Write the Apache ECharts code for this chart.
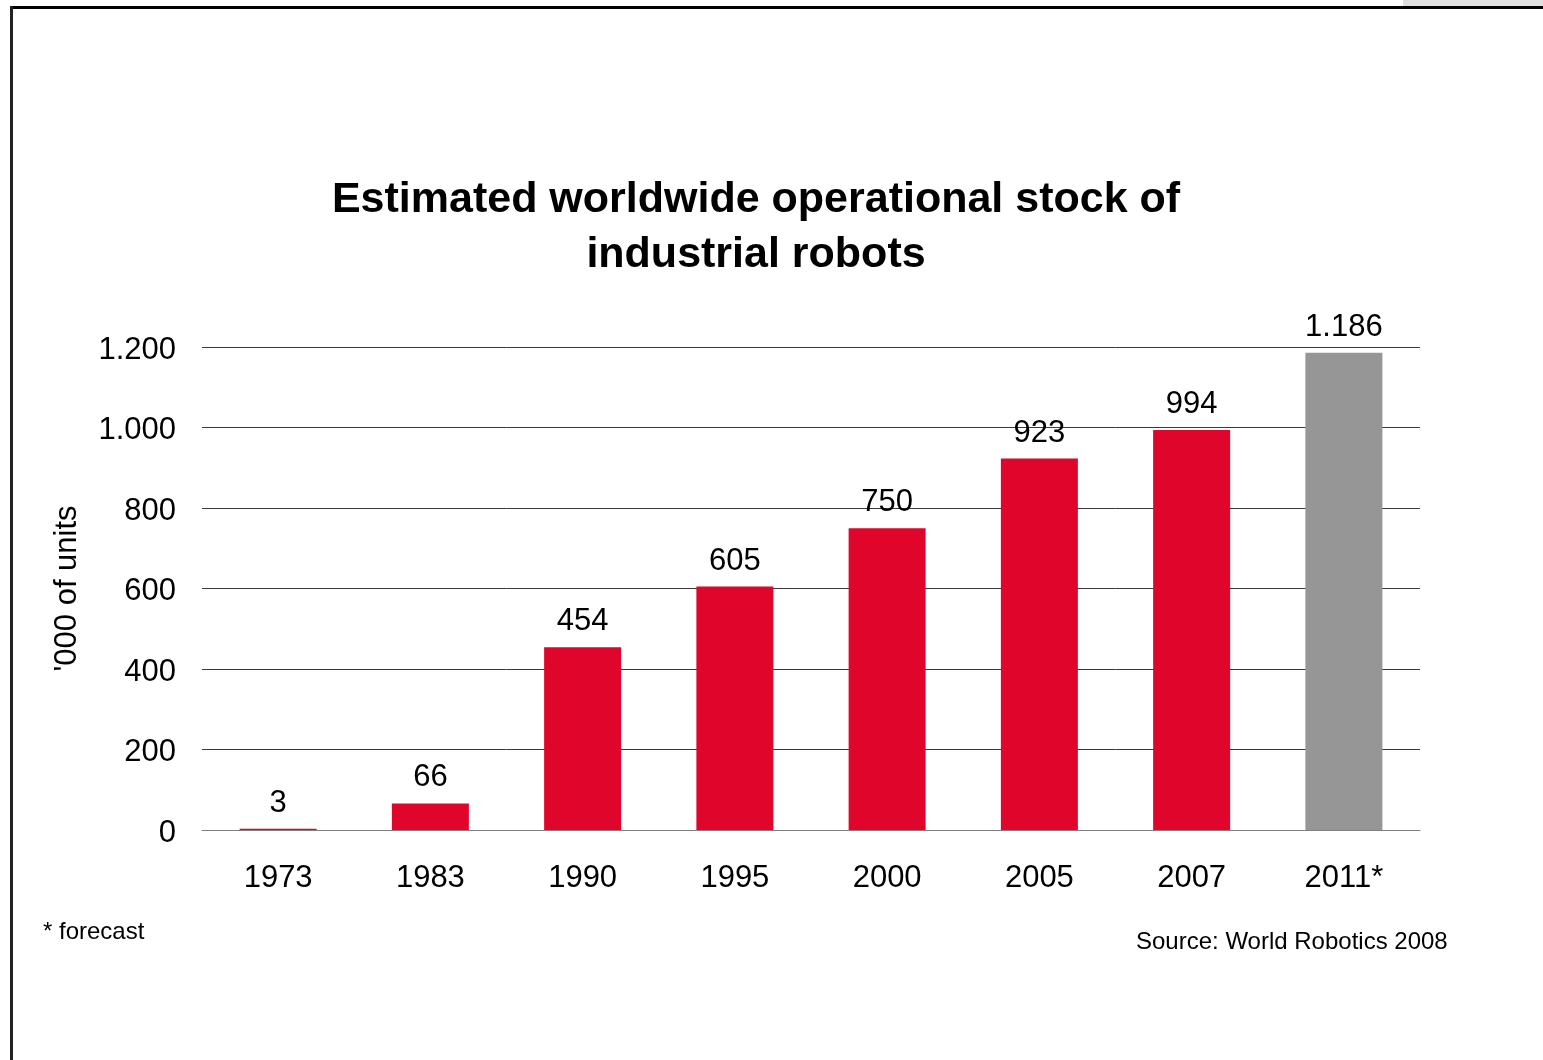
<!DOCTYPE html>
<html>
<head>
<meta charset="utf-8">
<style>
html,body{margin:0;padding:0;background:#fff;}
#chart{width:1543px;height:1060px;}
</style>
<script src="https://cdn.jsdelivr.net/npm/echarts@6/dist/echarts.min.js"></script>
</head>
<body>
<div id="chart"></div>
<script>
var categories = ['1973','1983','1990','1995','2000','2005','2007','2011*'];
var values = [3,66,454,605,750,923,994,1186];
var forecast = [false,false,false,false,false,false,false,true];
var yTicks = [0,200,400,600,800,1000,1200];

function fmt(v){
  var s = String(v);
  if (s.length > 3) s = s.slice(0, s.length-3) + '.' + s.slice(s.length-3);
  return s;
}

var FONT = 'Liberation Sans, Arial, sans-serif';
var chart = echarts.init(document.getElementById('chart'));
chart.setOption({
  animation: false,
  backgroundColor: '#fff',
  title: {
    text: 'Estimated worldwide operational stock of\nindustrial robots',
    left: 751, top: 168, textAlign: 'center',
    textStyle: {fontFamily: FONT, fontSize: 43, fontWeight: 'bold', color: '#000', lineHeight: 55}
  },
  grid: {left: 202, right: 123, top: 347, bottom: 230, containLabel: false},
  xAxis: {
    type: 'category', data: categories,
    axisLine: {lineStyle: {color: '#808080', width: 1}},
    axisTick: {show: false},
    axisLabel: {fontFamily: FONT, fontSize: 31, color: '#000', margin: 33}
  },
  yAxis: {
    type: 'value', min: 0, max: 1200, interval: 200,
    name: "'000 of units", nameLocation: 'middle', nameGap: 119, nameRotate: 90,
    nameTextStyle: {fontFamily: FONT, fontSize: 31, color: '#000'},
    axisLine: {show: false}, axisTick: {show: false},
    axisLabel: {fontFamily: FONT, fontSize: 31, color: '#000', margin: 26,
      formatter: function(v){return '{a|' + fmt(v) + '}';},
      rich: {a: {fontFamily: FONT, fontSize: 31, color: '#000', padding: [6,0,0,0]}}},
    splitLine: {lineStyle: {color: '#3a3a3a', width: 1}}
  },
  series: [{
    type: 'bar', barWidth: 77,
    data: values.map(function(v, i){
      return {value: v, itemStyle: {color: forecast[i] ? '#969696' : '#e0062b'}};
    }),
    label: {show: true, position: 'top', distance: 10, fontFamily: FONT, fontSize: 31, color: '#000',
      formatter: function(p){return fmt(p.value);}}
  }],
  graphic: [
    {type: 'rect', shape: {x: 1403, y: 0, width: 140, height: 7}, style: {fill: '#dedede'}},
    {type: 'rect', shape: {x: 10, y: 6, width: 1533, height: 3}, style: {fill: '#000'}},
    {type: 'rect', shape: {x: 10, y: 6, width: 3, height: 1054}, style: {fill: '#222'}},
    {type: 'text', left: 43, top: 920, style: {text: '* forecast', font: '24px ' + FONT, fill: '#000'}},
    {type: 'text', left: 1136, top: 930, style: {text: 'Source: World Robotics 2008', font: '24px ' + FONT, fill: '#000'}}
  ]
});
</script>
</body>
</html>
